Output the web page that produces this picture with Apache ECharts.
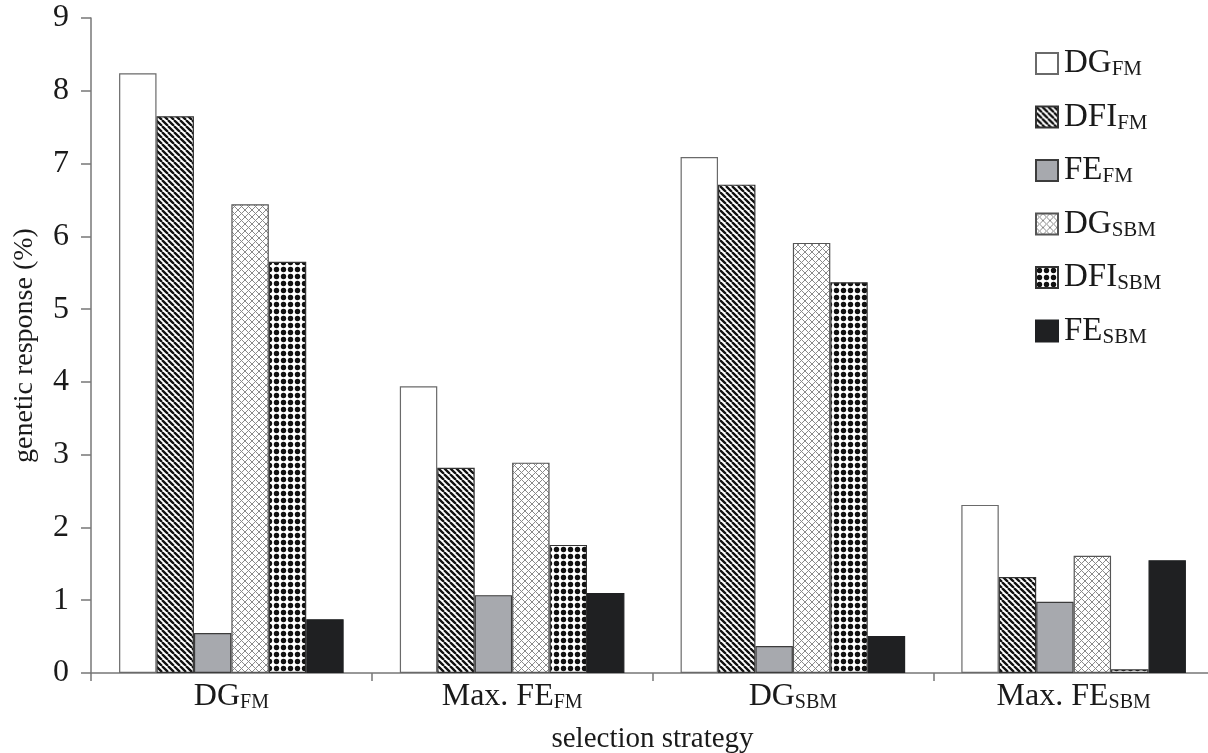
<!DOCTYPE html>
<html>
<head>
<meta charset="utf-8">
<script src="https://cdn.jsdelivr.net/npm/echarts@6/dist/echarts.min.js"></script>
<style>
html,body{margin:0;padding:0;background:#fff;}
#chart{width:1208px;height:753px;}
</style>
</head>
<body>
<div id="chart"></div>
<script>
// ---- data ----
var categories = ['DG_FM', 'Max. FE_FM', 'DG_SBM', 'Max. FE_SBM'];
var seriesNames = ['DG_FM', 'DFI_FM', 'FE_FM', 'DG_SBM', 'DFI_SBM', 'FE_SBM'];
var DG_FM   = [8.24, 3.94, 7.09, 2.31];
var DFI_FM  = [7.65, 2.82, 6.71, 1.32];
var FE_FM   = [0.55, 1.07, 0.37, 0.98];
var DG_SBM  = [6.44, 2.89, 5.91, 1.61];
var DFI_SBM = [5.65, 1.76, 5.37, 0.05];
var FE_SBM  = [0.74, 1.10, 0.51, 1.55];
var yTicks = [0, 1, 2, 3, 4, 5, 6, 7, 8, 9];
var seriesValues = [DG_FM, DFI_FM, FE_FM, DG_SBM, DFI_SBM, FE_SBM];

// ---- patterns ----
function makeCanvas(w, h) {
  var c = document.createElement('canvas');
  c.width = w; c.height = h;
  return c;
}
function diagPattern() {
  var s = 6, c = makeCanvas(s, s), g = c.getContext('2d');
  g.fillStyle = '#fff'; g.fillRect(0, 0, s, s);
  g.strokeStyle = '#111'; g.lineWidth = 2.3;
  g.beginPath();
  for (var k = -1; k <= 1; k++) {
    g.moveTo(k * s, 0); g.lineTo(k * s + s, s);
  }
  g.stroke();
  return c;
}
function crossPattern() {
  var s = 7, c = makeCanvas(s, s), g = c.getContext('2d');
  g.fillStyle = '#fff'; g.fillRect(0, 0, s, s);
  g.strokeStyle = '#8a8a8a'; g.lineWidth = 1;
  g.beginPath();
  for (var k = -1; k <= 1; k++) {
    g.moveTo(k * s, 0); g.lineTo(k * s + s, s);
    g.moveTo(k * s + s, 0); g.lineTo(k * s, s);
  }
  g.stroke();
  return c;
}
function dotPattern() {
  var s = 7, c = makeCanvas(s, s), g = c.getContext('2d');
  g.fillStyle = '#fff'; g.fillRect(0, 0, s, s);
  g.fillStyle = '#111';
  g.beginPath(); g.arc(s / 2, s / 2, 2.7, 0, Math.PI * 2); g.fill();
  return c;
}

var styles = [
  { color: '#ffffff', borderColor: '#6a6a6a' },
  { color: { image: diagPattern(), repeat: 'repeat' }, borderColor: '#333' },
  { color: '#a7a9ae', borderColor: '#3c3c3c' },
  { color: { image: crossPattern(), repeat: 'repeat' }, borderColor: '#555' },
  { color: { image: dotPattern(), repeat: 'repeat' }, borderColor: '#333' },
  { color: '#1f2022', borderColor: '#1f2022' }
];

function subFmt(name) {
  var p = name.split('_');
  return '{m|' + p[0] + '}{s|' + p[1] + '}';
}

var font = 'Liberation Serif, Times New Roman, serif';

var series = seriesNames.map(function (n, i) {
  return {
    name: n,
    type: 'bar',
    data: seriesValues[i],
    barGap: '0%',
    barCategoryGap: '20%',
    itemStyle: {
      color: styles[i].color,
      borderColor: styles[i].borderColor,
      borderWidth: 1.2
    },
    emphasis: { disabled: true }
  };
});

var chart = echarts.init(document.getElementById('chart'));
chart.setOption({
  animation: false,
  backgroundColor: '#fff',
  grid: { left: 91, right: -6, top: 18, bottom: 80, containLabel: false, outerBoundsMode: 'none' },
  legend: {
    orient: 'vertical',
    left: 1035,
    top: 47,
    padding: 0,
    itemWidth: 22,
    itemHeight: 21,
    itemGap: 20.5,
    icon: 'rect',
    data: seriesNames,
    formatter: subFmt,
    textStyle: {
      fontFamily: font,
      color: '#1a1a1a',
      padding: [0, 0, 0, 1],
      rich: {
        m: { fontFamily: font, fontSize: 33, lineHeight: 33, color: '#1a1a1a' },
        s: { fontFamily: font, fontSize: 21, lineHeight: 10, verticalAlign: 'bottom', color: '#1a1a1a' }
      }
    },
    selectedMode: false
  },
  xAxis: {
    type: 'category',
    data: categories,
    name: 'selection strategy',
    nameLocation: 'middle',
    nameGap: 52,
    nameTextStyle: { fontFamily: font, fontSize: 29, color: '#1a1a1a' },
    axisLine: { lineStyle: { color: '#777', width: 1.5 } },
    axisTick: { show: true, length: 8, alignWithLabel: false, lineStyle: { color: '#777', width: 1.5 } },
    axisLabel: {
      margin: 8,
      formatter: subFmt,
      rich: {
        m: { fontFamily: font, fontSize: 32, lineHeight: 32, color: '#1a1a1a' },
        s: { fontFamily: font, fontSize: 20, lineHeight: 9, verticalAlign: 'bottom', color: '#1a1a1a' }
      }
    },
    splitLine: { show: false }
  },
  yAxis: {
    type: 'value',
    min: yTicks[0],
    max: yTicks[yTicks.length - 1],
    interval: 1,
    name: 'genetic response (%)',
    nameLocation: 'middle',
    nameGap: 52,
    nameTextStyle: { fontFamily: font, fontSize: 28, color: '#1a1a1a' },
    axisLine: { show: true, lineStyle: { color: '#777', width: 1.5 } },
    axisTick: { show: true, length: 10, lineStyle: { color: '#777', width: 1.5 } },
    axisLabel: { margin: 22, fontFamily: font, fontSize: 32, color: '#1a1a1a' },
    splitLine: { show: false }
  },
  series: series
});
</script>
</body>
</html>
